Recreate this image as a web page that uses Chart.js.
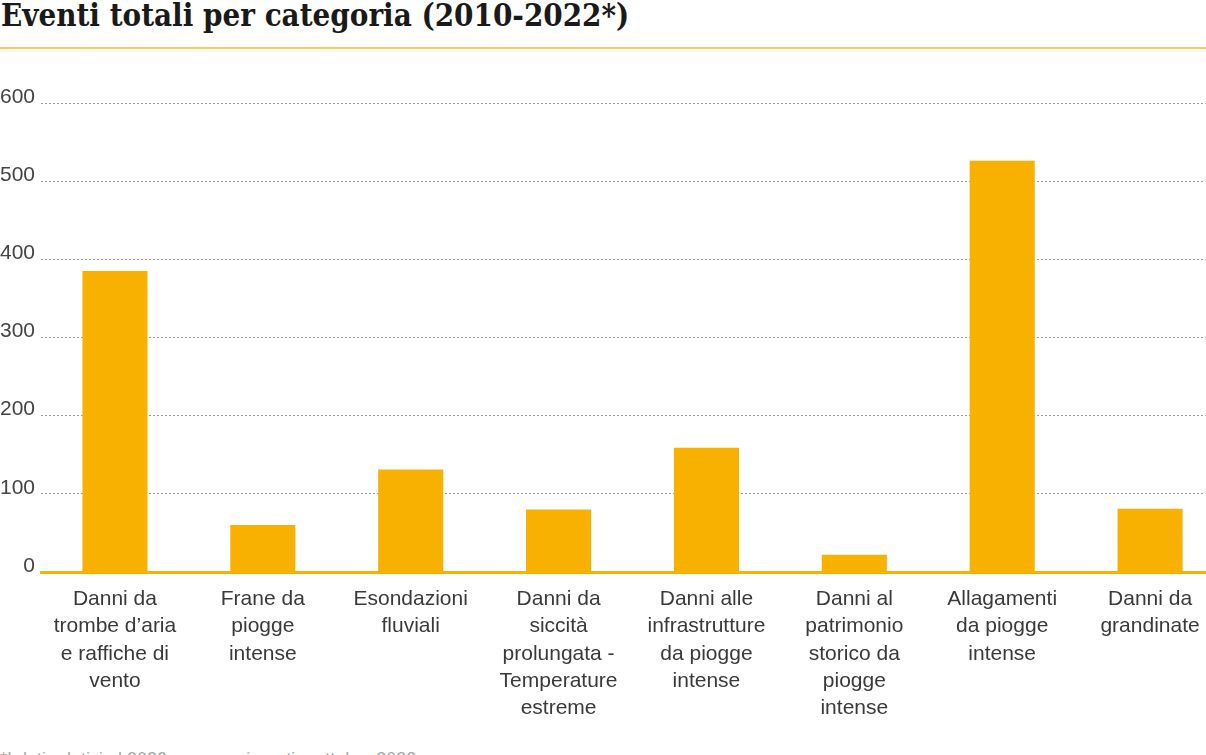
<!DOCTYPE html>
<html>
<head>
<meta charset="utf-8">
<script src="https://cdn.jsdelivr.net/npm/chart.js@4"></script>
<style>
    body { margin: 0; background: #fff; overflow: hidden; width: 1206px; height: 755px; position: relative; }
    #titolo { position: absolute; left: 1px; top: -3px; font-family: "DejaVu Serif Condensed", "DejaVu Serif", serif; font-weight: bold; font-size: 31px; color: #1a1a1a; white-space: nowrap; }
    #riga { position: absolute; left: 0; top: 47px; width: 1206px; height: 2px; background: #f3c76b; box-shadow: 0 2px 3px rgba(243, 199, 107, 0.25); }
    #grafico { position: absolute; left: 0; top: 60px; }
    #nota { position: absolute; left: 0; top: 749px; font-family: "Liberation Sans", Arial, sans-serif; font-size: 18px; color: #aaa; white-space: nowrap; }
</style>
</head>
<body>
<div id="titolo">Eventi totali per categoria (2010-2022*)</div>
<div id="riga"></div>
<canvas id="grafico" width="1224" height="672"></canvas>
<div id="nota">*I dati relativi al 2022 sono aggiornati a ottobre 2022</div>

<script>
// categorie (etichette su più righe come nell'originale)
let categorie = [
    ['Danni da', 'trombe d’aria', 'e raffiche di', 'vento'],
    ['Frane da', 'piogge', 'intense'],
    ['Esondazioni', 'fluviali'],
    ['Danni da', 'siccità', 'prolungata -', 'Temperature', 'estreme'],
    ['Danni alle', 'infrastrutture', 'da piogge', 'intense'],
    ['Danni al', 'patrimonio', 'storico da', 'piogge', 'intense'],
    ['Allagamenti', 'da piogge', 'intense'],
    ['Danni da', 'grandinate']
];

let eventi = [385, 60, 131, 80, 159, 22, 526, 81];

let tickY = [0, 100, 200, 300, 400, 500, 600];

let arancio = '#f8b100';
let testo = '#3a3a3a';
let fontBase = '"Liberation Sans", Arial, sans-serif';

Chart.defaults.font.family = fontBase;

new Chart(document.getElementById('grafico'), {
    type: 'bar',
    data: {
        labels: categorie,
        datasets: [{
            label: 'Eventi',
            data: eventi,
            backgroundColor: arancio,
            categoryPercentage: 1,
            barPercentage: 0.44
        }]
    },
    options: {
        responsive: false,
        animation: false,
        layout: { padding: { top: 43, left: 0, right: 0, bottom: 0 } },
        plugins: {
            legend: { display: false },
            tooltip: { enabled: false }
        },
        scales: {
            x: {
                grid: { display: false, drawTicks: false },
                border: { color: arancio, width: 3 },
                ticks: {
                    color: testo,
                    font: { size: 21, lineHeight: 1.29 },
                    padding: 14,
                    maxRotation: 0,
                    autoSkip: false
                },
                afterFit: function (scale) { scale.height = 160; }
            },
            y: {
                min: 0,
                max: 600,
                afterBuildTicks: function (scale) {
                    scale.ticks = tickY.map(v => ({ value: v }));
                },
                grid: {
                    color: '#9a9a9a',
                    lineWidth: 1,
                    drawTicks: false
                },
                border: { display: false, dash: [2, 2] },
                ticks: {
                    color: '#444',
                    font: { size: 21 },
                    padding: 6,
                    labelOffset: -6
                },
                afterFit: function (scale) { scale.width = 41; }
            }
        }
    }
});
</script>
</body>
</html>
